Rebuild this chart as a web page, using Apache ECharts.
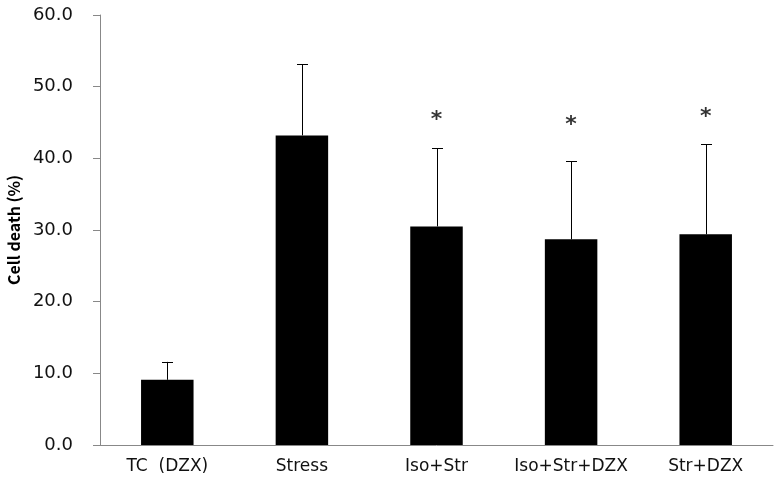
<!DOCTYPE html>
<html><head><meta charset="utf-8">
<script src="https://cdn.jsdelivr.net/npm/echarts@6/dist/echarts.min.js"></script>
<style>html,body{margin:0;padding:0;background:#fff}#c{width:780px;height:491px}</style>
</head><body><div id="c"></div>
<script>
const categories = ['TC  (DZX)', 'Stress', 'Iso+Str', 'Iso+Str+DZX', 'Str+DZX'];
const means = [9.1, 43.2, 30.5, 28.7, 29.4];
const errorTops = [11.6, 53.1, 41.4, 39.6, 42.0];
const starPositions = [null, null, 45.7, 45.0, 46.2];
const yTicks = [0, 10, 20, 30, 40, 50, 60];

const FONT = '"DejaVu Sans", sans-serif';
const chart = echarts.init(document.getElementById('c'));
chart.setOption({
  animation: false,
  grid: {left: 100, right: 7, top: 15, bottom: 46, containLabel: false, outerBoundsMode: 'none'},
  xAxis: {
    type: 'category', data: categories,
    axisLine: {lineStyle: {color: '#888', width: 1}},
    axisTick: {length: 8, lineStyle: {color: '#888'}},
    axisLabel: {color: '#111', fontSize: 17, fontFamily: FONT, margin: 13, interval: 0, hideOverlap: false}
  },
  yAxis: {
    type: 'value', min: yTicks[0], max: yTicks[yTicks.length - 1], interval: 10,
    name: 'Cell death (%)', nameLocation: 'middle', nameGap: 76, nameRotate: 90,
    nameTextStyle: {color: '#000', fontSize: 16, fontWeight: 'bold', fontFamily: '"Noto Sans CJK KR", sans-serif'},
    axisLine: {show: true, lineStyle: {color: '#888', width: 1}},
    axisTick: {show: true, length: 7, lineStyle: {color: '#888'}},
    splitLine: {show: false},
    axisLabel: {color: '#111', fontSize: 18, fontFamily: FONT, margin: 27,
      formatter: v => v.toFixed(1)}
  },
  series: [
    {type: 'bar', data: means, barWidth: '39%', itemStyle: {color: '#000'}, z: 2},
    {type: 'custom', z: 3,
      data: errorTops.map((t, i) => [i, means[i], t]),
      renderItem: function (params, api) {
        const base = api.coord([api.value(0), api.value(1)]);
        const top = api.coord([api.value(0), api.value(2)]);
        const x = Math.round(base[0]) + 0.5;
        const hw = 5.5;
        return {type: 'group', children: [
          {type: 'line', shape: {x1: x, y1: base[1], x2: x, y2: top[1]}, style: {stroke: '#000', lineWidth: 1}},
          {type: 'line', shape: {x1: x - hw, y1: Math.round(top[1]) + 0.5, x2: x + hw, y2: Math.round(top[1]) + 0.5}, style: {stroke: '#000', lineWidth: 1}}
        ]};
      }
    },
    {type: 'scatter', symbolSize: 0, z: 4,
      data: starPositions.map((v, i) => v == null ? null : [i, v]).filter(d => d),
      label: {show: true, position: 'inside', offset: [0, 3], formatter: '*', color: '#000', fontSize: 22, fontWeight: 'bold', fontFamily: FONT}
    }
  ]
});
</script></body></html>
